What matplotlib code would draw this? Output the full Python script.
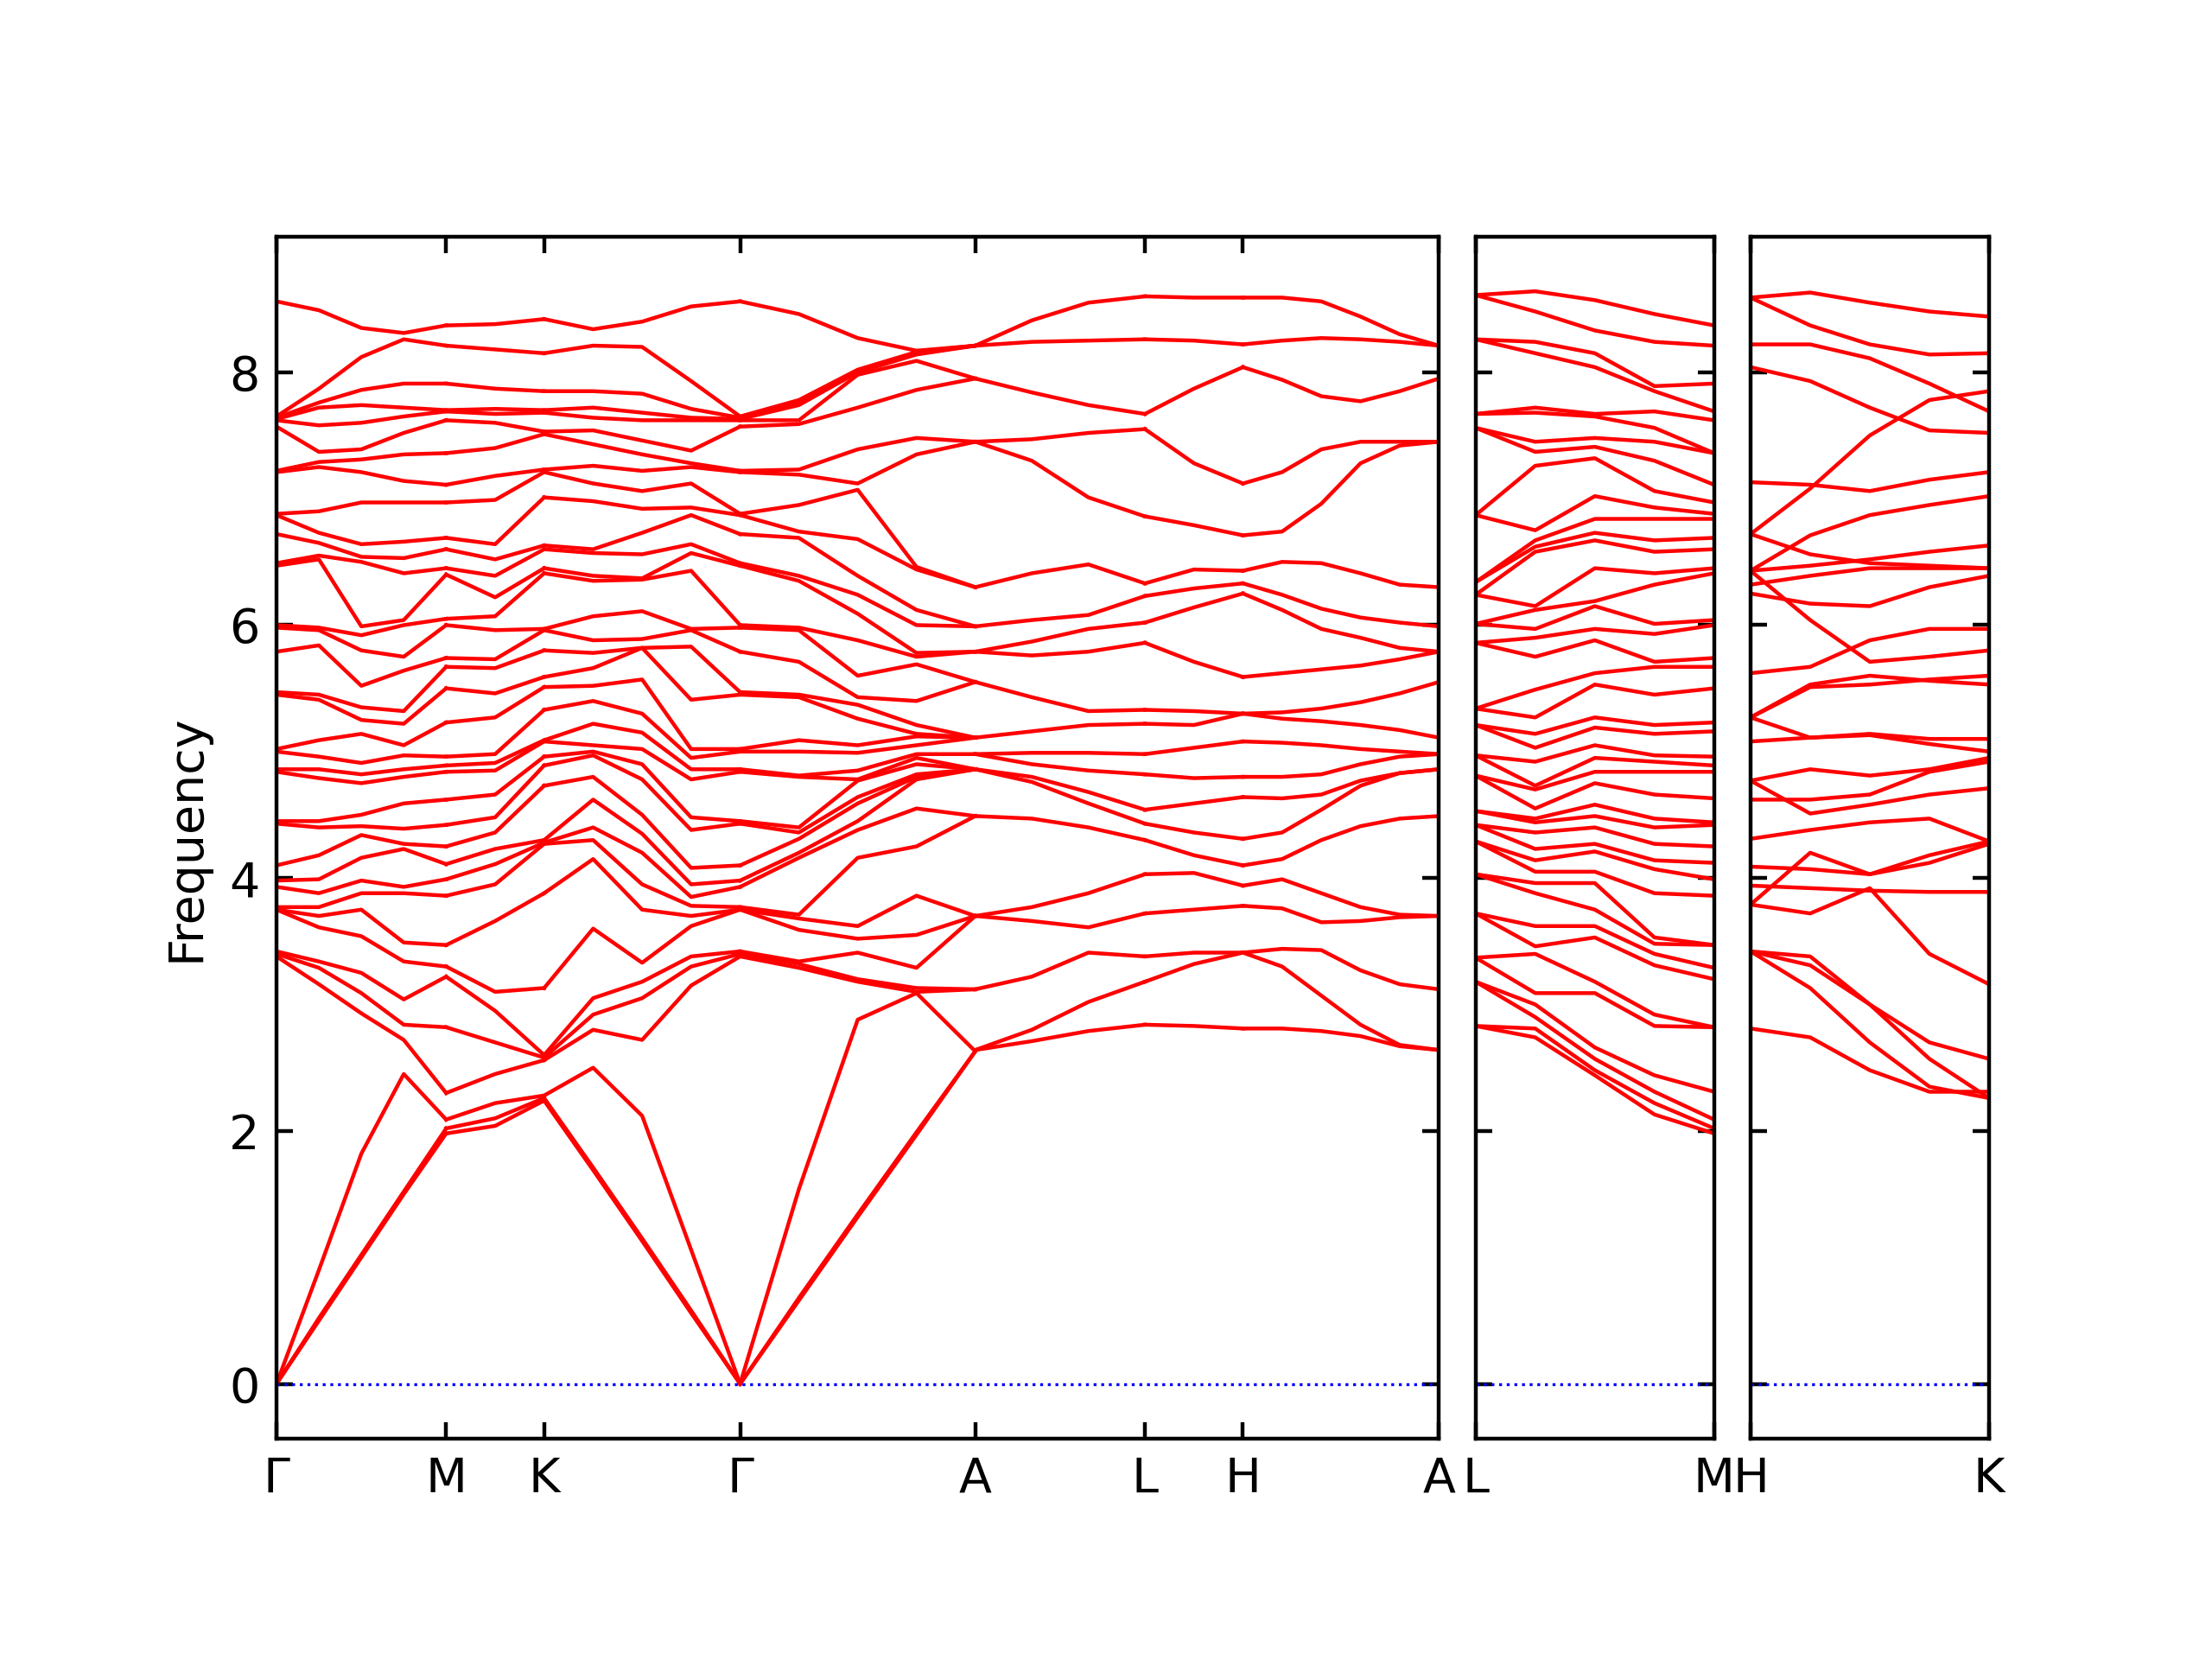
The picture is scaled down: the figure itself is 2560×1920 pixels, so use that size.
import numpy as np
import matplotlib
matplotlib.use("Agg")
import matplotlib.pyplot as plt

# reciprocal-space length of every path segment
seg_main = [0.1212, 0.0700, 0.1400, 0.1680, 0.1212, 0.0700, 0.1400]  # G-M-K-G-A-L-H-A
labels_main = ["Γ", "M", "K", "Γ", "A", "L", "H", "A"]
seg_lm = 0.1680
seg_hk = 0.1680

# q-points sampled along a segment (fraction of its length)
frac_5 = [0.0, 0.25, 0.5, 0.75, 1.0]
frac_3 = [0.0, 0.5, 1.0]
frac_4 = [0.0, 1 / 3, 2 / 3, 1.0]
frac_6 = [0.0, 0.2, 0.4, 0.6, 0.8, 1.0]

# ---- frequencies read at each q-point (sorted) ----
gamma = [0.0, 0.0, 0.0, 3.38, 3.40, 3.42, 3.75, 3.75, 3.77, 3.93, 3.98, 4.10,
         4.43, 4.45, 4.84, 4.86, 5.00, 5.02, 5.45, 5.47, 5.79, 5.98, 6.00, 6.47,
         6.49, 6.72, 6.87, 6.88, 7.21, 7.22, 7.57, 7.62, 7.63, 7.64, 7.65, 8.56]
gm1 = [0.50, 0.52, 0.90, 3.16, 3.29, 3.34, 3.61, 3.70, 3.77, 3.88, 3.99, 4.18,
       4.40, 4.45, 4.79, 4.86, 4.96, 5.09, 5.41, 5.45, 5.84, 5.96, 5.98, 6.52,
       6.55, 6.65, 6.73, 6.90, 7.25, 7.29, 7.37, 7.58, 7.72, 7.76, 7.87, 8.49]
gm2 = [1.00, 1.02, 1.82, 2.93, 3.09, 3.25, 3.54, 3.75, 3.88, 3.98, 4.16, 4.34,
       4.41, 4.50, 4.75, 4.82, 4.91, 5.14, 5.25, 5.35, 5.52, 5.80, 5.92, 5.99,
       6.50, 6.54, 6.64, 6.97, 7.21, 7.31, 7.39, 7.60, 7.74, 7.86, 8.12, 8.35]
gm3 = [1.50, 1.52, 2.45, 2.72, 2.84, 3.04, 3.34, 3.49, 3.88, 3.93, 4.23, 4.27,
       4.39, 4.59, 4.80, 4.86, 4.97, 5.05, 5.22, 5.32, 5.64, 5.75, 6.00, 6.04,
       6.41, 6.53, 6.66, 6.97, 7.14, 7.35, 7.52, 7.65, 7.72, 7.91, 8.26, 8.31]
m_pt = [1.98, 2.02, 2.09, 2.30, 2.82, 3.22, 3.30, 3.47, 3.86, 3.99, 4.11, 4.25,
        4.42, 4.62, 4.84, 4.89, 4.96, 5.23, 5.50, 5.67, 5.74, 6.00, 6.05, 6.40,
        6.45, 6.60, 6.69, 6.97, 7.11, 7.36, 7.62, 7.69, 7.70, 7.91, 8.21, 8.37]
mk1 = [2.04, 2.10, 2.22, 2.45, 2.70, 2.95, 3.10, 3.66, 3.95, 4.11, 4.23, 4.36,
       4.48, 4.66, 4.85, 4.91, 4.98, 5.27, 5.46, 5.66, 5.73, 5.96, 6.07, 6.22,
       6.39, 6.52, 6.64, 6.99, 7.18, 7.40, 7.60, 7.67, 7.71, 7.87, 8.18, 8.38]
k_pt = [2.24, 2.26, 2.28, 2.56, 2.58, 2.60, 3.13, 3.88, 4.27, 4.28, 4.30, 4.73,
        4.89, 4.96, 5.08, 5.09, 5.33, 5.51, 5.59, 5.80, 5.96, 5.97, 6.41, 6.45,
        6.60, 6.63, 7.01, 7.21, 7.23, 7.51, 7.53, 7.68, 7.70, 7.85, 8.15, 8.42]
kg1 = [1.69, 1.71, 2.50, 2.80, 2.92, 3.05, 3.60, 4.15, 4.30, 4.40, 4.62, 4.80,
       4.97, 5.00, 5.05, 5.22, 5.40, 5.52, 5.66, 5.78, 5.88, 6.07, 6.35, 6.39,
       6.57, 6.60, 6.98, 7.12, 7.26, 7.43, 7.54, 7.64, 7.72, 7.85, 8.21, 8.34]
kg2 = [1.13, 1.15, 2.12, 2.72, 3.05, 3.18, 3.33, 3.75, 3.95, 4.20, 4.35, 4.50,
       4.78, 4.90, 5.02, 5.15, 5.30, 5.57, 5.82, 5.82, 5.89, 6.11, 6.36, 6.37,
       6.56, 6.73, 6.92, 7.06, 7.22, 7.35, 7.46, 7.62, 7.68, 7.83, 8.20, 8.40]
kg3 = [0.56, 0.58, 1.06, 3.15, 3.30, 3.38, 3.62, 3.70, 3.78, 3.85, 3.95, 4.08,
       4.38, 4.48, 4.78, 4.86, 4.95, 5.02, 5.41, 5.83, 5.96, 5.97, 6.43, 6.57,
       6.64, 6.87, 6.93, 7.12, 7.25, 7.28, 7.38, 7.62, 7.64, 7.71, 7.93, 8.52]
ga1 = [0.66, 0.68, 1.54, 3.29, 3.32, 3.34, 3.59, 3.68, 3.71, 4.16, 4.20, 4.31,
       4.36, 4.40, 4.80, 4.81, 5.00, 5.09, 5.43, 5.45, 5.71, 5.96, 5.98, 6.35,
       6.39, 6.69, 6.74, 6.95, 7.19, 7.23, 7.59, 7.62, 7.74, 7.76, 7.78, 8.46]
ga2 = [1.32, 1.34, 2.88, 3.18, 3.20, 3.41, 3.52, 3.62, 4.16, 4.38, 4.45, 4.59,
       4.64, 4.77, 4.78, 4.85, 4.99, 5.05, 5.26, 5.37, 5.43, 5.60, 5.88, 6.09,
       6.24, 6.39, 6.68, 7.07, 7.12, 7.39, 7.72, 7.98, 8.00, 8.01, 8.02, 8.27]
ga3 = [1.97, 1.99, 3.09, 3.10, 3.13, 3.29, 3.55, 3.86, 4.25, 4.55, 4.78, 4.80,
       4.82, 4.90, 4.95, 4.98, 5.05, 5.12, 5.14, 5.21, 5.40, 5.69, 5.75, 5.78,
       6.00, 6.12, 6.44, 6.46, 7.35, 7.48, 7.86, 8.09, 8.14, 8.15, 8.16, 8.17]
a_full = [2.63, 2.63, 2.63, 3.12, 3.12, 3.70, 3.70, 3.70, 4.49, 4.49, 4.86, 4.86,
          4.86, 4.86, 4.86, 4.98, 5.11, 5.11, 5.11, 5.11, 5.55, 5.55, 5.79, 5.79,
          5.99, 5.99, 6.30, 6.30, 7.45, 7.45, 7.95, 7.95, 8.21, 8.21, 8.21, 8.21]

# A-L-H-A plane: doubly degenerate branches, one value per visible branch
a_pt = [2.64, 2.64, 3.12, 3.70, 3.70, 4.49, 4.86, 4.86, 4.98, 4.98, 5.11,
        5.55, 5.79, 5.79, 5.99, 6.30, 7.45, 7.45, 7.95, 8.21, 8.21]
al1 = [2.71, 2.80, 3.22, 3.66, 3.77, 4.47, 4.76, 4.80, 4.90, 4.99, 5.16,
       5.43, 5.76, 5.87, 6.04, 6.41, 7.30, 7.47, 7.84, 8.24, 8.41]
al2 = [2.79, 3.02, 3.41, 3.61, 3.88, 4.40, 4.59, 4.68, 4.85, 4.99, 5.21,
       5.32, 5.79, 5.97, 6.08, 6.48, 7.01, 7.52, 7.74, 8.25, 8.55]
l_pt = [2.84, 3.18, 3.38, 3.72, 4.03, 4.30, 4.43, 4.54, 4.82, 4.98, 5.22,
        5.33, 5.86, 6.02, 6.23, 6.33, 6.86, 7.55, 7.67, 8.26, 8.60]
lh1 = [2.83, 3.32, 3.41, 3.75, 4.04, 4.18, 4.36, 4.59, 4.79, 5.03, 5.21,
       5.32, 5.71, 6.14, 6.29, 6.44, 6.79, 7.28, 7.87, 8.25, 8.59]
h_pt = [2.81, 3.41, 3.41, 3.78, 3.94, 4.10, 4.31, 4.64, 4.80, 5.08, 5.30,
        5.30, 5.59, 6.25, 6.33, 6.43, 6.71, 7.12, 8.04, 8.22, 8.59]
ha1 = [2.81, 3.30, 3.44, 3.76, 3.99, 4.15, 4.36, 4.63, 4.80, 5.07, 5.26,
       5.31, 5.62, 6.12, 6.24, 6.50, 6.74, 7.21, 7.94, 8.25, 8.59]
ha2 = [2.79, 3.07, 3.43, 3.65, 3.88, 4.30, 4.54, 4.66, 4.82, 5.05, 5.24,
       5.34, 5.65, 5.97, 6.13, 6.49, 6.96, 7.39, 7.81, 8.27, 8.56]
ha3 = [2.75, 2.84, 3.27, 3.66, 3.77, 4.41, 4.73, 4.77, 4.90, 5.02, 5.21,
       5.39, 5.68, 5.90, 6.06, 6.41, 7.28, 7.45, 7.77, 8.26, 8.44]
ha4 = [2.67, 2.68, 3.16, 3.69, 3.71, 4.47, 4.83, 4.83, 4.96, 5.00, 5.17,
       5.46, 5.73, 5.82, 6.02, 6.32, 7.42, 7.45, 7.85, 8.24, 8.30]

# L-M line
lm0 = [2.83, 2.83, 3.18, 3.18, 3.37, 3.37, 3.72, 3.72, 4.03, 4.03, 4.29, 4.29,
       4.42, 4.42, 4.53, 4.53, 4.81, 4.81, 4.97, 4.97, 5.21, 5.21, 5.34, 5.34,
       5.86, 5.86, 6.01, 6.01, 6.24, 6.24, 6.34, 6.34, 6.87, 6.87, 7.56, 7.56,
       7.67, 7.67, 8.26, 8.26, 8.61, 8.61]
lm1 = [2.74, 2.81, 2.90, 3.00, 3.09, 3.40, 3.46, 3.62, 3.88, 3.96, 4.05, 4.14,
       4.23, 4.36, 4.44, 4.47, 4.55, 4.70, 4.73, 4.92, 5.03, 5.14, 5.27, 5.49,
       5.75, 5.90, 5.97, 6.12, 6.15, 6.58, 6.62, 6.67, 6.75, 7.26, 7.37, 7.45,
       7.68, 7.72, 8.15, 8.24, 8.48, 8.64]
lm2 = [2.44, 2.48, 2.57, 2.66, 3.09, 3.18, 3.53, 3.62, 3.75, 3.96, 4.05, 4.21,
       4.27, 4.40, 4.49, 4.58, 4.75, 4.84, 4.95, 5.05, 5.19, 5.27, 5.53, 5.62,
       5.88, 5.97, 6.15, 6.19, 6.45, 6.67, 6.73, 6.84, 7.02, 7.32, 7.41, 7.48,
       7.65, 7.67, 8.04, 8.15, 8.33, 8.57]
lm3 = [2.13, 2.22, 2.31, 2.44, 2.83, 2.92, 3.31, 3.40, 3.48, 3.53, 3.88, 4.07,
       4.14, 4.27, 4.40, 4.47, 4.66, 4.84, 4.92, 4.97, 5.14, 5.21, 5.45, 5.67,
       5.71, 5.93, 6.01, 6.32, 6.41, 6.58, 6.67, 6.84, 6.93, 7.06, 7.30, 7.45,
       7.56, 7.69, 7.85, 7.89, 8.24, 8.46]
m_side = [1.98, 2.02, 2.09, 2.31, 2.82, 2.82, 3.20, 3.29, 3.47, 3.47, 3.86, 3.99,
          4.12, 4.25, 4.42, 4.44, 4.63, 4.84, 4.89, 4.96, 5.16, 5.23, 5.50, 5.67,
          5.74, 6.00, 6.04, 6.41, 6.45, 6.60, 6.69, 6.84, 6.88, 6.97, 7.11, 7.36,
          7.36, 7.62, 7.69, 7.91, 8.21, 8.37]

# H-K line, one entry per branch
hk0 = [8.59, 8.59, 8.22, 8.04, 6.72, 7.13, 6.43, 6.72, 6.43, 6.32, 6.25, 6.43,
       5.62, 5.27, 5.27, 5.08, 5.27, 4.77, 4.77, 4.62, 4.31, 3.79, 4.09, 3.94,
       3.79, 3.42, 3.42, 3.42, 2.81]
hk1 = [8.63, 8.37, 8.22, 7.93, 7.08, 7.11, 6.71, 6.56, 6.47, 6.39, 6.17, 6.04,
       5.67, 5.53, 5.51, 5.11, 5.11, 4.86, 4.51, 4.62, 4.38, 4.20, 4.07, 3.92,
       3.72, 3.38, 3.31, 3.13, 2.74]
hk2 = [8.55, 8.22, 8.11, 7.72, 7.50, 7.06, 6.87, 6.49, 6.52, 6.45, 6.15, 5.71,
       5.88, 5.60, 5.53, 5.14, 5.13, 4.81, 4.58, 4.66, 4.44, 4.03, 4.03, 3.90,
       3.92, 3.00, 3.00, 2.70, 2.48]
hk3 = [8.48, 8.14, 7.91, 7.54, 7.78, 7.15, 6.95, 6.47, 6.58, 6.45, 6.30, 5.75,
       5.97, 5.56, 5.57, 5.10, 5.06, 4.86, 4.66, 4.84, 4.47, 4.18, 4.12, 3.89,
       3.40, 2.57, 2.70, 2.35, 2.31]
hk4 = [8.44, 8.15, 7.69, 7.52, 7.85, 7.21, 7.02, 6.45, 6.63, 6.45, 6.39, 5.80,
       5.97, 5.53, 5.60, 5.10, 5.00, 4.95, 4.71, 4.92, 4.29, 4.29, 4.27, 3.89,
       3.16, 2.26, 2.57, 2.26, 2.31]

main_segments = [
    (frac_5, [gamma, gm1, gm2, gm3, m_pt]),
    (frac_3, [m_pt, mk1, k_pt]),
    (frac_5, [k_pt, kg1, kg2, kg3, gamma]),
    (frac_5, [gamma, ga1, ga2, ga3, a_full]),
    (frac_4, [a_pt, al1, al2, l_pt]),
    (frac_3, [l_pt, lh1, h_pt]),
    (frac_6, [h_pt, ha1, ha2, ha3, ha4, a_pt]),
]

YLIM = (-0.435, 9.07)
BAND_KW = dict(color="r", lw=0.8, solid_joinstyle="round")


def draw_segment(ax, x0, length, fracs, cols):
    x = x0 + length * np.asarray(fracs)
    ax.plot(x, np.asarray(cols), **BAND_KW)


def style_axis(ax, xmax, ticks, labels):
    ax.axhline(0, color="b", ls=":", lw=0.6)
    ax.set_xlim(0, xmax)
    ax.set_ylim(*YLIM)
    ax.set_xticks(ticks)
    ax.set_xticklabels(labels)
    ax.set_yticks([0, 2, 4, 6, 8])
    ax.tick_params(direction="in", top=True, right=True, labelsize=10)


fig = plt.figure(figsize=(6.4, 4.8), dpi=400)
bottom, height = 0.1327, 0.7245

ax1 = fig.add_axes([0.125, bottom, 0.5255, height])
x0 = 0.0
ticks = [0.0]
for length, (fracs, cols) in zip(seg_main, main_segments):
    draw_segment(ax1, x0, length, fracs, cols)
    x0 += length
    ticks.append(x0)
style_axis(ax1, x0, ticks, labels_main)
ax1.set_ylabel("Frequency", fontsize=10)

ax2 = fig.add_axes([0.6671, bottom, 0.1078, height])
draw_segment(ax2, 0.0, seg_lm, frac_5, [lm0, lm1, lm2, lm3, m_side])
style_axis(ax2, seg_lm, [0.0, seg_lm], ["L", "M"])
ax2.set_yticklabels([])

ax3 = fig.add_axes([0.7914, bottom, 0.1078, height])
draw_segment(ax3, 0.0, seg_hk, frac_5, [hk0, hk1, hk2, hk3, hk4])
style_axis(ax3, seg_hk, [0.0, seg_hk], ["H", "K"])
ax3.set_yticklabels([])

fig.savefig("out.png", dpi=400)
